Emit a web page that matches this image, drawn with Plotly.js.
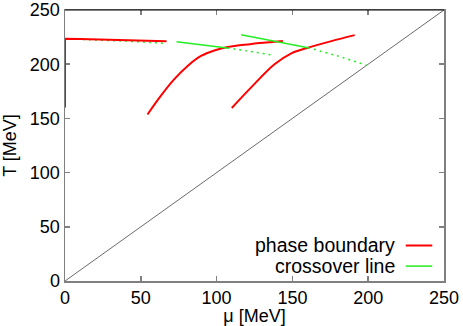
<!DOCTYPE html>
<html>
<head>
<meta charset="utf-8">
<script src="https://cdn.plot.ly/plotly-3.0.1.min.js"></script>
<style>html,body{margin:0;padding:0;background:#fff;}#chart{width:463px;height:326px;}</style>
</head>
<body>
<div id="chart"></div>
<script>
// Phase boundary (red) segments
const muPB1 = [0, 0, 10, 30, 50, 67];
const TPB1  = [160, 223.4, 223.2, 222.7, 222.0, 221.2];
const muPB2 = [54.4, 63.3, 72.1, 80.9, 89.7, 98.5, 107.3, 115, 125, 135, 143.7];
const TPB2  = [153.6, 171, 186.2, 198.4, 207.6, 212.7, 215.8, 217.5, 219, 220.3, 221.3];
const muPB3 = [110, 122.8, 138.2, 149.3, 160.3, 175.7, 191.1];
const TPB3  = [159.6, 178.6, 199.9, 210, 215.2, 221.3, 226.8];

// Crossover line (green) segments: solid and dotted continuations
const muCO0dot = [0, 20, 40, 67];
const TCO0dot  = [223.4, 222.5, 221.3, 219.2];
const muCO1 = [73.6, 107];
const TCO1  = [220.7, 215.0];
const muCO1dot = [107, 120, 137.8];
const TCO1dot  = [215.0, 212.3, 208.2];
const muCO2 = [116.2, 160.3];
const TCO2  = [227.1, 215.2];
const muCO2dot = [160.3, 180, 198.9];
const TCO2dot  = [215.2, 207.5, 199.0];

// Diagonal mu = T
const muDiag = [0, 250];
const TDiag  = [0, 250];

const xTicks = [0, 50, 100, 150, 200, 250];
const yTicks = [0, 50, 100, 150, 200, 250];
const legendNames = ['phase boundary', 'crossover line'];

const RED = '#ff0000', GREEN = '#22ee22';
const dotted = {color: GREEN, width: 1.5, dash: '2px,4px'};

const traces = [
  {x: muDiag, y: TDiag, mode: 'lines', line: {color: '#444', width: 0.8}},
  {x: muCO0dot, y: TCO0dot, mode: 'lines', line: dotted},
  {x: muPB1, y: TPB1, mode: 'lines', line: {color: RED, width: 2}},
  {x: muPB2, y: TPB2, mode: 'lines', line: {color: RED, width: 2, shape: 'spline'}},
  {x: muPB3, y: TPB3, mode: 'lines', line: {color: RED, width: 2, shape: 'spline'}},
  {x: muCO1, y: TCO1, mode: 'lines', line: {color: GREEN, width: 1.5}},
  {x: muCO1dot, y: TCO1dot, mode: 'lines', line: Object.assign({shape: 'spline'}, dotted)},
  {x: muCO2, y: TCO2, mode: 'lines', line: {color: GREEN, width: 1.5}},
  {x: muCO2dot, y: TCO2dot, mode: 'lines', line: Object.assign({shape: 'spline'}, dotted)}
];

const font = {family: 'Liberation Sans, Arial, sans-serif', size: 18, color: '#000'};
const axisCommon = {
  showgrid: false, zeroline: false, showline: true, linecolor: '#808080', linewidth: 1.5,
  mirror: 'ticks', ticks: 'inside', ticklen: 5, tickcolor: '#808080', tickwidth: 1.5,
  tickfont: font, ticklabeloverflow: 'allow', layer: 'below traces'
};

const layout = {
  width: 463, height: 326,
  margin: {l: 65, r: 19, t: 10, b: 45},
  paper_bgcolor: '#fff', plot_bgcolor: '#fff',
  showlegend: false,
  font: font,
  xaxis: Object.assign({}, axisCommon, {
    range: [0, 250], tickvals: xTicks, ticktext: xTicks.map(String),
    title: {text: 'μ [MeV]', font: font, standoff: 0}
  }),
  yaxis: Object.assign({}, axisCommon, {
    range: [0, 250], tickvals: yTicks, ticktext: yTicks.map(String),
    title: {text: 'T [MeV]', font: font, standoff: 8}
  }),
  shapes: [
    {type: 'line', xref: 'paper', yref: 'paper', x0: 0, x1: 1, y0: 1, y1: 1, line: {color: '#000', width: 1.2}},
    {type: 'line', xref: 'paper', yref: 'paper', x0: 0.899, x1: 0.969, y0: 0.131, y1: 0.131, line: {color: RED, width: 2}},
    {type: 'line', xref: 'paper', yref: 'paper', x0: 0.899, x1: 0.969, y0: 0.055, y1: 0.055, line: {color: GREEN, width: 1.5}}
  ],
  annotations: [
    {xref: 'paper', yref: 'paper', x: 0.877, y: 0.131, xanchor: 'right', yanchor: 'middle', text: legendNames[0], showarrow: false, font: {family: font.family, size: 19.5, color: '#000'}},
    {xref: 'paper', yref: 'paper', x: 0.877, y: 0.055, xanchor: 'right', yanchor: 'middle', text: legendNames[1], showarrow: false, font: {family: font.family, size: 19.5, color: '#000'}}
  ]
};

Plotly.newPlot('chart', traces, layout, {staticPlot: true, displayModeBar: false});
</script>
</body>
</html>
